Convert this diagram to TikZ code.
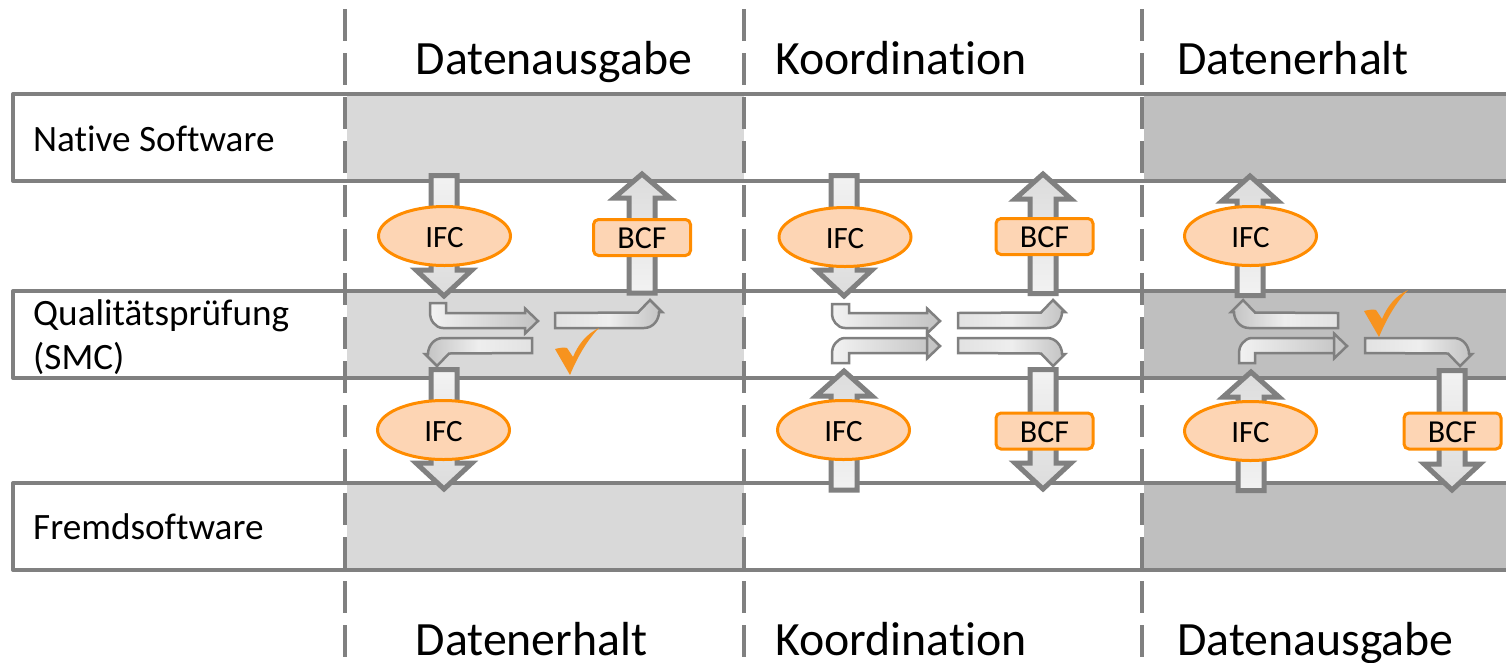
\documentclass[tikz,border=0pt]{standalone}
\usepackage{fontspec}
\setmainfont[Ligatures={NoCommon,NoContextual}]{Carlito}
\usetikzlibrary{shapes.geometric}
\definecolor{linegray}{HTML}{808080}
\definecolor{bandA}{HTML}{D9D9D9}
\definecolor{bandB}{HTML}{BFBFBF}
\definecolor{orangeline}{HTML}{FF8C00}
\definecolor{orangefill}{HTML}{FDD5B4}
\definecolor{checkorange}{HTML}{F7931E}
\definecolor{gradlight}{HTML}{F2F2F2}
\definecolor{gradmid}{HTML}{DCDCDC}
\definecolor{gradthin}{HTML}{C2C2C2}
\definecolor{gradtail}{HTML}{E2E2E2}
\definecolor{gradcentre}{HTML}{EEEEEE}
\tikzset{
  rowline/.style={draw=linegray,line width=4pt,line join=round},
  coldash/.style={draw=linegray,line width=4pt,dash pattern=on 32pt off 12pt},
  bigarrow/.style={draw=linegray,line width=5pt,line join=miter,miter limit=10},
  thinarrow/.style={draw=linegray,line width=2.5pt,line join=miter},
  ifcnode/.style={ellipse,draw=orangeline,fill=orangefill,line width=3pt,minimum width=132pt,minimum height=59pt,inner sep=0pt,font=\fontsize{31}{31}\selectfont},
  bcfnode/.style={rectangle,rounded corners=5pt,draw=orangeline,fill=orangefill,line width=3pt,minimum width=97pt,minimum height=36pt,inner sep=0pt,font=\fontsize{32}{32}\selectfont},
  head/.style={anchor=base west,inner sep=0pt,font=\fontsize{47.8}{47.8}\selectfont},
  rowlabel/.style={anchor=base west,inner sep=0pt,font=\fontsize{37.2}{37.2}\selectfont},
  checkmark/.style={fill=checkorange,draw=none},
}
\newcommand{\nodetext}[1]{\raisebox{-11pt}[0pt][0pt]{#1}}
% x, start y, tip y, head base y
\newcommand{\bigdown}[4]{\path[bigarrow,top color=gradlight,bottom color=gradmid]
  (#1-13,#2) -- (#1+13,#2) -- (#1+13,#4) -- (#1+28,#4) -- (#1,#3) -- (#1-28,#4) -- (#1-13,#4) -- cycle;}
\newcommand{\bigup}[4]{\path[bigarrow,bottom color=gradlight,top color=gradmid]
  (#1-13,#2) -- (#1+13,#2) -- (#1+13,#4) -- (#1+28,#4) -- (#1,#3) -- (#1-28,#4) -- (#1-13,#4) -- cycle;}
% stub arrow: stub left x, stub right x, stub end y, inner y, outer y, head base x, tip x, axis y
\newcommand{\stubarrow}[8]{\path[thinarrow,left color=gradlight,right color=gradthin]
  (#1,#3) -- (#2,#3) -- (#2,#4) -- (#6,#4) -- (#6,#8-12.5) -- (#7,#8) -- (#6,#8+12.5) -- (#6,#5)
  -- (#1+13,#5) .. controls (#1+5,#5) and (#1,{#5+(#3-#5)*0.35}) .. (#1,{#5+(#3-#5)*0.55}) -- cycle;}
% turning arrow: tail x, outer y, xscale, yscale, shading
\newcommand{\turnarrow}[5]{\begin{scope}[shift={(#1,#2)},xscale=#3,yscale=#4]
  \path[thinarrow,#5,middle color=gradcentre]
  (0,0) -- (89,0) .. controls (98,0) and (104,-8) .. (104,-16) -- (107,-16) -- (95,-28) -- (83,-15.5) -- (0,-15) -- cycle;
  \end{scope}}
\newcommand{\checksign}[2]{\begin{scope}[shift={(#1,#2)}]
  \path[checkmark] (-15,-26) .. controls (-11,-27) and (-6,-28) .. (-3,-27) -- (3,-18)
   .. controls (8,-30) and (16,-41) .. (29,-47) .. controls (20,-38) and (9,-22) .. (0,0) -- cycle;
  \end{scope}}
\begin{document}
\begin{tikzpicture}[x=1pt,y=-1pt]
\useasboundingbox (0,0) rectangle (1506,662);
\fill[white] (0,0) rectangle (1506,662);
% bands
\foreach \a/\b in {94/181,291/378,483/570}{
  \fill[bandA] (347,\a) rectangle (744,\b);
  \fill[bandB] (1144,\a) rectangle (1506,\b);
}
% rows
\foreach \a/\b in {94/181,291/378,483/570}{
  \path[rowline] (1506,\a) -- (13,\a) -- (13,\b) -- (1506,\b);
}
% columns
\foreach \x in {345,744,1142}{
  \path[coldash] (\x,9) -- (\x,662);
}
% labels
\node[head] (h1) at (415.5,74.7) {Datenausgabe};
\node[head] (h2) at (775,74.7) {Koordination};
\node[head] (h3) at (1177,74.7) {Datenerhalt};
\node[head] (f1) at (415.5,655.5) {Datenerhalt};
\node[head] (f2) at (775,655.5) {Koordination};
\node[head] (f3) at (1177,655.5) {Datenausgabe};
\node[rowlabel] (r1) at (33,151) {Native Software};
\node[rowlabel] (r2) at (33,325) {Qualitätsprüfung};
\node[rowlabel] (r2b) at (33,369) {(SMC)};
\node[rowlabel] (r3) at (33,539) {Fremdsoftware};
% big arrows
\bigdown{444}{175.5}{296}{270}
\bigup{642}{293}{174}{198}
\bigdown{444}{369.5}{489}{463}
\bigdown{844}{175.5}{296}{270}
\bigup{1043}{293.5}{174}{199}
\bigup{844}{490}{371}{396}
\bigdown{1043}{369.5}{489}{463}
\bigup{1250}{295.5}{176}{201}
\bigup{1251}{490.5}{372}{397}
\bigdown{1452}{370.5}{490}{464}
% thin arrows
\stubarrow{430}{446}{303}{313}{328}{525}{538}{321}
\stubarrow{832}{849}{304}{313}{328}{927}{940}{321}
\stubarrow{832}{849}{363}{353}{338}{927}{940}{346}
\stubarrow{1239}{1255}{363}{353}{338}{1334}{1347}{346}
\turnarrow{555}{328}{1}{1}{left color=gradtail,right color=gradthin}
\turnarrow{532}{338}{-1}{-1}{right color=gradtail,left color=gradthin}
\turnarrow{958}{328}{1}{1}{left color=gradtail,right color=gradthin}
\turnarrow{958}{338}{1}{-1}{left color=gradtail,right color=gradthin}
\turnarrow{1338}{328}{-1}{1}{right color=gradtail,left color=gradthin}
\turnarrow{1365}{338}{1}{-1}{left color=gradtail,right color=gradthin}
% checks
\checksign{570}{375}
\checksign{1379}{337}
% format nodes
\node[ifcnode] (i1) at (444.5,236) {\nodetext{IFC}};
\node[ifcnode] (i2) at (443.5,430) {\nodetext{IFC}};
\node[ifcnode] (i3) at (845,237) {\nodetext{IFC}};
\node[ifcnode] (i4) at (843.5,430) {\nodetext{IFC}};
\node[ifcnode] (i5) at (1250.5,236) {\nodetext{IFC}};
\node[ifcnode] (i6) at (1250.5,431) {\nodetext{IFC}};
\node[bcfnode] (b1) at (642,237.5) {\nodetext{BCF}};
\node[bcfnode] (b2) at (1044.5,236.5) {\nodetext{BCF}};
\node[bcfnode] (b3) at (1044.5,431) {\nodetext{BCF}};
\node[bcfnode] (b4) at (1452.5,431) {\nodetext{BCF}};
\end{tikzpicture}
\end{document}
